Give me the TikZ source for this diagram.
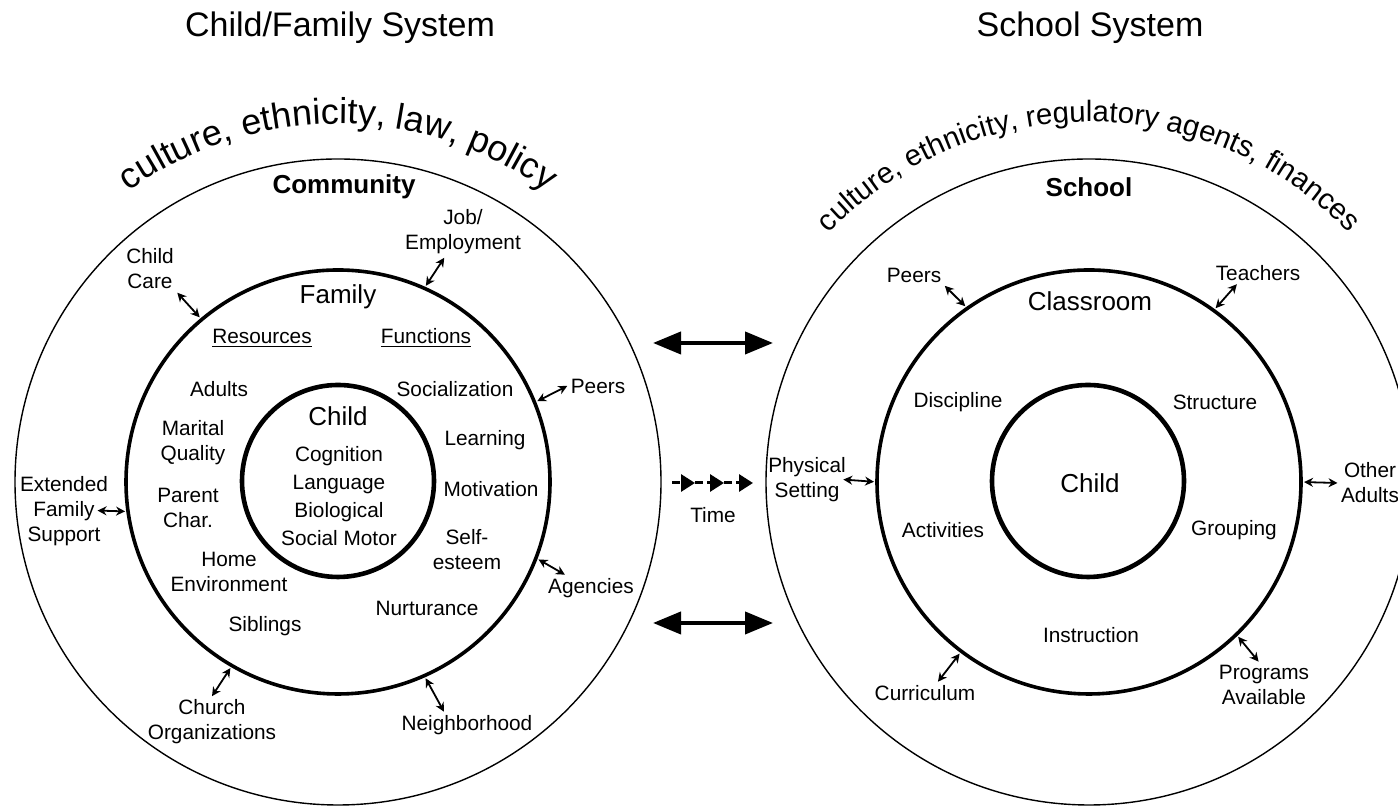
\documentclass[tikz,border=0pt]{standalone}
\usepackage{fontspec}
\setmainfont{Liberation Sans}
\usepackage{tikz}
\usetikzlibrary{arrows,arrows.meta,decorations.text}

\begin{document}
\begin{tikzpicture}[x=0.5pt,y=0.5pt,>=stealth',semithick]
  \tikzstyle{every node}=[font=\fontsize{10.4}{12.5}\selectfont,align=center,inner sep=1.5pt]
  \tikzstyle{ring}=[circle,draw,inner sep=0pt,outer sep=0pt]
  \tikzstyle{outer ring}=[ring,line width=0.7pt]
  \tikzstyle{mid ring}=[ring,line width=1.8pt]
  \tikzstyle{core ring}=[ring,line width=2.3pt]
  \tikzstyle{head}=[font=\fontsize{13}{15}\selectfont]
  \tikzstyle{headbf}=[font=\fontsize{13}{15}\selectfont\bfseries]
  \tikzstyle{title}=[font=\fontsize{17}{20}\selectfont,anchor=base]
  \tikzstyle{link}=[{Stealth[length=4.5pt,width=4.5pt]}-{Stealth[length=4.5pt,width=4.5pt]},line width=0.9pt,shorten >=1.5pt]
  \tikzstyle{big}=[{Triangle[length=14pt,width=11pt]}-{Triangle[length=14pt,width=11pt]},line width=2pt]
  \tikzstyle{timeflow}=[-{Triangle[length=7pt,width=8.5pt]},line width=1.5pt,dash pattern=on 4pt off 2pt]

  \useasboundingbox (0,0) rectangle (1398,806);

  % rings
  \node[outer ring,minimum size=323pt] (comm)  at (338,324)  {};
  \node[mid ring,minimum size=212pt]   (fam)   at (338,324)  {};
  \node[core ring,minimum size=96pt]   (kid)   at (338,325)  {};
  \node[outer ring,minimum size=323pt] (sch)   at (1089,324) {};
  \node[mid ring,minimum size=212pt]   (cls)   at (1089,324) {};
  \node[core ring,minimum size=96pt]   (pupil) at (1088,325) {};

  % titles and arcs
  \node[title] (famsys) at (340,769)  {Child/Family System};
  \node[title] (schsys) at (1090,769) {School System};
  \path[decorate,decoration={text along path,text align=center,
        text={|\fontsize{18}{18}\selectfont|culture, ethnicity, law, policy}}]
        (338,324) ++(150:358) arc[start angle=150,end angle=30,radius=358];
  \path[decorate,decoration={text along path,text align=center,
        text={|\fontsize{14.7}{15}\selectfont|culture, ethnicity, regulatory agents, finances}}]
        (1089,324) ++(150:360) arc[start angle=150,end angle=30,radius=360];

  % child/family system
  \node[headbf] (community)  at (344,619) {Community};
  \node[head]   (famhdr)     at (338,509) {Family};
  \node[head]   (kidhdr)     at (338,390) {Child};
  \node (traits)     at (339,310) [font=\fontsize{10.4}{14}\selectfont] {Cognition\\Language\\Biological\\Social Motor};
  \node (resources)  at (262,468) {\underline{Resources}};
  \node (functions)  at (426,468) {\underline{Functions}};
  \node (adults)     at (219,417) {Adults};
  \node (socialize)  at (455,417) {Socialization};
  \node (marital)    at (193,363) {Marital\\Quality};
  \node (learning)   at (485,366) {Learning};
  \node (parent)     at (188,298) {Parent\\Char.};
  \node (motivation) at (491,317) {Motivation};
  \node (selfest)    at (467,256) {Self-\\esteem};
  \node (home)       at (229,234) {Home\\Environment};
  \node (nurture)    at (427,198) {Nurturance};
  \node (siblings)   at (265,180) {Siblings};
  \node (ccare)      at (150,537) {Child\\Care};
  \node (job)        at (463,574) {Job/\\Employment};
  \node (peersL)     at (598,420) {Peers};
  \node (agencies)   at (591,218) {Agencies};
  \node (ext)        at (64,295)  {Extended\\Family\\Support};
  \node (church)     at (212,84)  {Church\\Organizations};
  \node (neigh)      at (467,81)  {Neighborhood};

  \draw[link] (ccare.south east) -- (fam.130);
  \draw[link] (job.234) -- (fam.66);
  \draw[link] (peersL.west) -- (fam.22);
  \draw[link] (agencies.153) -- (fam.-21);
  \draw[link,shorten <=-7pt] (ext.east) -- (fam.188);
  \draw[link] (church.north) -- (fam.240);
  \draw[link] (neigh.150) -- (fam.-66);

  % school system
  \node[headbf] (school)     at (1089,619) {School};
  \node[head]   (classroom)  at (1090,505) {Classroom};
  \node[head]   (pupilhdr)   at (1090,323) {Child};
  \node (discipline) at (958,404)  {Discipline};
  \node (structure)  at (1215,404) {Structure};
  \node (activities) at (943,276)  {Activities};
  \node (grouping)   at (1234,276) {Grouping};
  \node (instruct)   at (1091,171) {Instruction};
  \node (peersR)     at (914,531)  {Peers};
  \node (teachers)   at (1258,533) {Teachers};
  \node (physical)   at (807,326)  {Physical\\Setting};
  \node (other)      at (1370,323) {Other\\Adults};
  \node (curriculum) at (925,113)  {Curriculum};
  \node (programs)   at (1264,121) {Programs\\Available};

  \draw[link] (peersR.south east) -- (cls.125);
  \draw[link] (teachers.208) -- (cls.54);
  \draw[link,shorten <=-3pt] (physical.east) -- (cls.180);
  \draw[link] (other.west) -- (cls.0);
  \draw[link] (curriculum.41) -- (cls.233);
  \draw[link] (programs.103) -- (cls.-46);

  % between the systems
  \coordinate (upL) at (653,463);  \coordinate (upR) at (773,463);
  \coordinate (loL) at (653,183);  \coordinate (loR) at (773,183);
  \draw[big] (upL) -- (upR);
  \draw[big] (loL) -- (loR);
  \coordinate (t0) at (672,323); \coordinate (t1) at (695,323);
  \coordinate (t2) at (724,323); \coordinate (t3) at (753,323);
  \draw[timeflow] (t0) -- (t1);
  \draw[timeflow] (t1) -- (t2);
  \draw[timeflow] (t2) -- (t3);
  \node (time) at (713,291) {Time};
\end{tikzpicture}
\end{document}
